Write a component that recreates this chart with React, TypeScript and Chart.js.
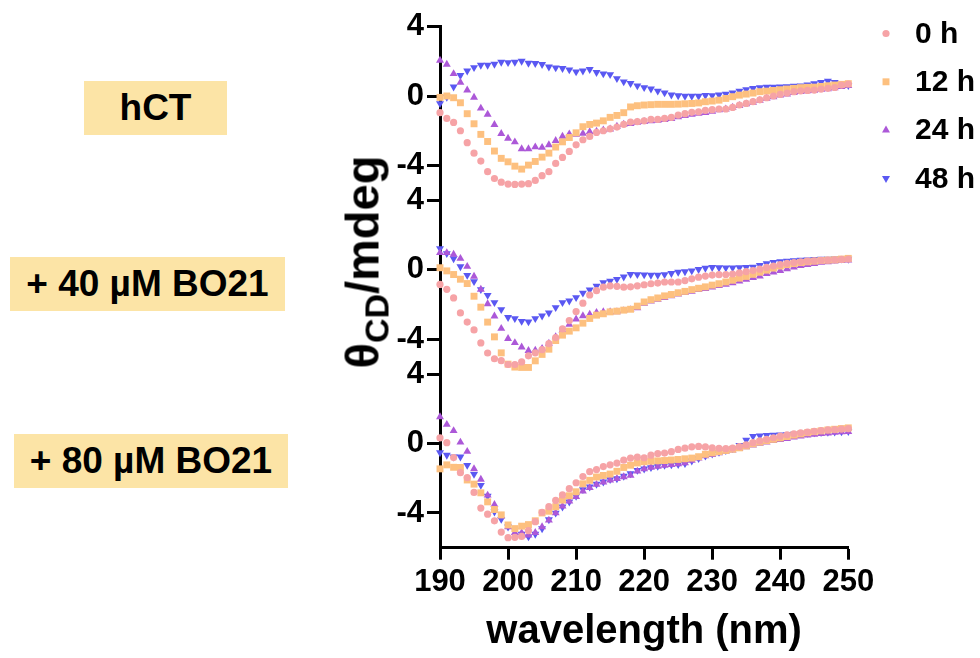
import React, { useEffect, useRef } from 'react';
import { Chart, registerables } from 'chart.js';

Chart.register(...registerables);

// ---- data ----
const wavelengths = [
  190, 191, 192, 193, 194, 195, 196, 197, 198, 199,
  200, 201, 202, 203, 204, 205, 206, 207, 208, 209,
  210, 211, 212, 213, 214, 215, 216, 217, 218, 219,
  220, 221, 222, 223, 224, 225, 226, 227, 228, 229,
  230, 231, 232, 233, 234, 235, 236, 237, 238, 239,
  240, 241, 242, 243, 244, 245, 246, 247, 248, 249,
  250,
];

const seriesLabels = ['0 h', '12 h', '24 h', '48 h'];
const panelLabels = ['hCT', '+ 40 µM BO21', '+ 80 µM BO21'];
const xTicks = [190, 200, 210, 220, 230, 240, 250];
const yTickValues = [-4, 0, 4];

// hCT
const hct0h = [
  -0.95, -1.28, -1.51, -1.99, -2.68, -3.28, -3.74, -4.35, -4.74, -4.95,
  -5.06, -5.08, -5.06, -5.04, -4.85, -4.58, -4.35, -3.87, -3.53, -3.18,
  -2.80, -2.51, -2.32, -2.09, -1.99, -1.88, -1.78, -1.62, -1.49, -1.47,
  -1.42, -1.34, -1.34, -1.28, -1.22, -1.09, -1.01, -0.93, -0.90, -0.82,
  -0.78, -0.74, -0.74, -0.65, -0.51, -0.42, -0.32, -0.21, -0.09, 0.01,
  0.10, 0.18, 0.26, 0.31, 0.33, 0.35, 0.41, 0.45, 0.50, 0.64,
  0.70,
];
const hct12h = [
  -0.07, 0.01, -0.09, -0.38, -1.01, -1.59, -2.20, -2.61, -3.16, -3.58,
  -3.78, -4.03, -4.20, -3.97, -3.76, -3.51, -3.28, -2.93, -2.63, -2.38,
  -2.11, -1.76, -1.63, -1.55, -1.42, -1.22, -1.11, -0.95, -0.62, -0.55,
  -0.51, -0.49, -0.47, -0.47, -0.47, -0.46, -0.44, -0.42, -0.39, -0.32,
  -0.28, -0.23, -0.13, -0.03, 0.06, 0.12, 0.18, 0.26, 0.29, 0.33,
  0.37, 0.41, 0.45, 0.49, 0.51, 0.52, 0.56, 0.60, 0.64, 0.68,
  0.72,
];
const hct24h = [
  2.06, 1.83, 1.29, 0.79, 0.35, -0.07, -0.70, -1.05, -1.64, -2.16,
  -2.43, -2.64, -3.04, -3.04, -2.93, -2.96, -2.81, -2.56, -2.32, -2.18,
  -2.20, -2.15, -2.05, -2.03, -1.95, -1.90, -1.74, -1.63, -1.59, -1.51,
  -1.47, -1.42, -1.40, -1.36, -1.30, -1.20, -1.12, -1.05, -0.99, -0.95,
  -0.88, -0.80, -0.75, -0.65, -0.55, -0.45, -0.36, -0.25, -0.13, -0.05,
  0.05, 0.12, 0.20, 0.26, 0.30, 0.33, 0.38, 0.42, 0.48, 0.55,
  0.60,
];
const hct48h = [
  -0.42, -0.05, 0.54, 1.20, 1.46, 1.65, 1.79, 1.79, 1.85, 1.96,
  1.94, 1.96, 2.02, 1.90, 1.89, 1.83, 1.69, 1.64, 1.60, 1.52,
  1.41, 1.46, 1.54, 1.37, 1.29, 1.25, 1.02, 0.83, 0.74, 0.60,
  0.50, 0.42, 0.30, 0.20, 0.08, 0.03, 0.00, 0.00, 0.00, 0.05,
  0.04, 0.08, 0.12, 0.20, 0.30, 0.38, 0.45, 0.50, 0.52, 0.53,
  0.54, 0.56, 0.58, 0.60, 0.65, 0.72, 0.80, 0.87, 0.80, 0.70,
  0.62,
];

// + 40 µM BO21
const bo40_0h = [
  -0.84, -1.12, -1.62, -2.48, -3.01, -3.46, -4.21, -4.79, -5.12, -5.23,
  -5.45, -5.45, -5.30, -4.95, -4.78, -4.60, -4.25, -3.90, -3.40, -2.92,
  -2.40, -1.92, -1.45, -1.20, -1.00, -0.92, -0.95, -1.00, -0.98, -0.92,
  -0.86, -0.80, -0.76, -0.70, -0.70, -0.70, -0.62, -0.52, -0.42, -0.36,
  -0.30, -0.28, -0.27, -0.24, -0.18, -0.10, -0.04, 0.04, 0.14, 0.22,
  0.30, 0.37, 0.42, 0.46, 0.50, 0.52, 0.54, 0.56, 0.58, 0.60,
  0.62,
];
const bo40_12h = [
  0.12, -0.06, -0.27, -0.54, -0.79, -1.52, -2.15, -3.01, -3.86, -4.78,
  -5.43, -5.60, -5.62, -5.62, -5.24, -4.87, -4.57, -4.07, -3.76, -3.53,
  -3.34, -3.07, -2.80, -2.61, -2.53, -2.42, -2.38, -2.32, -2.27, -2.09,
  -1.85, -1.72, -1.62, -1.50, -1.42, -1.32, -1.24, -1.14, -1.06, -0.98,
  -0.88, -0.80, -0.70, -0.60, -0.48, -0.38, -0.26, -0.14, -0.02, 0.10,
  0.22, 0.30, 0.36, 0.42, 0.46, 0.50, 0.54, 0.56, 0.58, 0.62,
  0.66,
];
const bo40_24h = [
  0.98, 0.98, 0.89, 0.65, 0.19, -0.38, -1.13, -1.96, -2.67, -3.38,
  -3.96, -4.20, -4.45, -4.65, -4.63, -4.53, -4.24, -3.86, -3.49, -3.15,
  -2.84, -2.65, -2.57, -2.46, -2.42, -2.42, -2.42, -2.36, -2.30, -2.19,
  -1.94, -1.80, -1.70, -1.60, -1.50, -1.40, -1.32, -1.24, -1.15, -1.08,
  -1.00, -0.92, -0.84, -0.76, -0.66, -0.56, -0.46, -0.36, -0.22, -0.14,
  -0.05, 0.05, 0.15, 0.24, 0.30, 0.36, 0.42, 0.46, 0.50, 0.53,
  0.55,
];
const bo40_48h = [
  1.23, 0.94, 0.65, 0.19, -0.31, -0.67, -1.13, -1.46, -1.88, -2.28,
  -2.74, -2.80, -2.96, -2.99, -2.80, -2.65, -2.48, -2.17, -1.88, -1.79,
  -1.59, -1.33, -1.15, -0.94, -0.73, -0.65, -0.54, -0.40, -0.25, -0.27,
  -0.28, -0.30, -0.30, -0.27, -0.20, -0.13, -0.10, -0.05, 0.03, 0.10,
  0.14, 0.13, 0.12, 0.12, 0.13, 0.14, 0.16, 0.26, 0.36, 0.44,
  0.48, 0.50, 0.53, 0.56, 0.58, 0.60, 0.62, 0.62, 0.63, 0.63,
  0.62,
];

// + 80 µM BO21
const bo80_0h = [
  0.32, 0.05, -0.81, -1.68, -1.96, -2.82, -3.72, -4.07, -4.45, -5.10,
  -5.42, -5.40, -5.35, -5.02, -4.50, -3.96, -3.64, -3.28, -2.96, -2.60,
  -2.26, -1.90, -1.62, -1.50, -1.33, -1.23, -1.13, -0.96, -0.84, -0.79,
  -0.82, -0.67, -0.58, -0.55, -0.47, -0.34, -0.27, -0.19, -0.17, -0.20,
  -0.25, -0.28, -0.30, -0.27, -0.18, -0.08, 0.05, 0.15, 0.24, 0.33,
  0.42, 0.50, 0.56, 0.62, 0.66, 0.70, 0.74, 0.78, 0.80, 0.83,
  0.86,
];
const bo80_12h = [
  -1.46, -1.23, -1.37, -1.38, -2.10, -2.34, -2.84, -3.36, -3.80, -4.11,
  -4.69, -4.90, -4.76, -4.67, -4.45, -4.00, -3.90, -3.64, -3.26, -3.01,
  -2.78, -2.32, -2.12, -1.93, -1.84, -1.76, -1.60, -1.38, -1.25, -1.12,
  -1.05, -1.02, -1.00, -0.98, -0.95, -0.92, -0.88, -0.84, -0.76, -0.62,
  -0.54, -0.47, -0.40, -0.33, -0.25, -0.14, -0.02, 0.08, 0.16, 0.24,
  0.32, 0.40, 0.48, 0.55, 0.62, 0.68, 0.73, 0.78, 0.82, 0.86,
  0.90,
];
const bo80_24h = [
  1.53, 1.09, 0.73, 0.07, -0.46, -1.46, -2.07, -2.98, -3.52, -4.19,
  -4.80, -5.13, -5.15, -5.28, -5.13, -4.80, -4.42, -4.00, -3.61, -3.32,
  -3.07, -2.75, -2.55, -2.36, -2.23, -2.11, -2.02, -1.92, -1.84, -1.60,
  -1.47, -1.38, -1.32, -1.26, -1.22, -1.18, -1.12, -0.98, -0.85, -0.72,
  -0.64, -0.54, -0.46, -0.38, -0.30, -0.20, -0.10, 0.00, 0.08, 0.16,
  0.22, 0.28, 0.36, 0.42, 0.48, 0.52, 0.56, 0.60, 0.63, 0.66,
  0.68,
];
const bo80_48h = [
  -0.52, -0.67, -0.77, -0.77, -1.25, -1.77, -2.40, -3.03, -3.94, -4.36,
  -4.80, -4.99, -5.22, -5.37, -5.22, -4.90, -4.38, -4.00, -3.65, -3.36,
  -3.03, -2.65, -2.50, -2.34, -2.21, -2.07, -2.02, -1.88, -1.73, -1.54,
  -1.46, -1.38, -1.30, -1.24, -1.22, -1.20, -1.15, -1.00, -0.86, -0.72,
  -0.60, -0.50, -0.40, -0.28, -0.10, 0.20, 0.42, 0.45, 0.47, 0.48,
  0.50, 0.52, 0.55, 0.58, 0.60, 0.62, 0.64, 0.66, 0.67, 0.68,
  0.70,
];

const panels = [
  [hct0h, hct12h, hct24h, hct48h],
  [bo40_0h, bo40_12h, bo40_24h, bo40_48h],
  [bo80_0h, bo80_12h, bo80_24h, bo80_48h],
];
// vertical offset of each stacked panel (top, middle, bottom)
const panelOffsets = [20, 10, 0];

// ---- styles ----
const COLORS = ['#F6A3A6', '#FDC07F', '#AC58D8', '#5A58F2'];
const POINT_STYLES = ['circle', 'rect', 'triangle', 'triangle'];
const POINT_ROT = [0, 0, 0, 180];
const POINT_RADIUS = [3.6, 4.9, 4.6, 4.6];
const FONT = '"Liberation Sans", Arial, Helvetica, sans-serif';

const CHART_LEFT = 440;
const CHART_RIGHT = 848.3;
const CHART_TOP = 26.7;
const CHART_BOTTOM = 547.7;
const W = 980;
const H = 658;

function drawMarker(ctx: CanvasRenderingContext2D, k: number, x: number, y: number) {
  const r = POINT_RADIUS[k];
  ctx.fillStyle = COLORS[k];
  ctx.beginPath();
  if (k === 0) {
    ctx.arc(x, y, r, 0, Math.PI * 2);
  } else if (k === 1) {
    const s = r * Math.SQRT1_2;
    ctx.rect(x - s, y - s, 2 * s, 2 * s);
  } else {
    let rad = (POINT_ROT[k] * Math.PI) / 180;
    ctx.moveTo(x + Math.sin(rad) * r, y - Math.cos(rad) * r);
    rad += (2 * Math.PI) / 3;
    ctx.lineTo(x + Math.sin(rad) * r, y - Math.cos(rad) * r);
    rad += (2 * Math.PI) / 3;
    ctx.lineTo(x + Math.sin(rad) * r, y - Math.cos(rad) * r);
    ctx.closePath();
  }
  ctx.fill();
}

const legendPlugin = {
  id: 'sideLegend',
  afterDraw(chart: any) {
    const ctx: CanvasRenderingContext2D = chart.ctx;
    ctx.save();
    seriesLabels.forEach((lab, k) => {
      const y = 33.5 + k * 48.3;
      drawMarker(ctx, k, 886, y);
      ctx.font = `bold 30px ${FONT}`;
      ctx.fillStyle = '#000';
      ctx.textBaseline = 'middle';
      ctx.textAlign = 'left';
      ctx.fillText(lab, 915, y + 1);
    });
    ctx.restore();
  },
};

export default function App() {
  const canvasRef = useRef<HTMLCanvasElement | null>(null);

  useEffect(() => {
    if (!canvasRef.current) return;
    const datasets: any[] = [];
    panels.forEach((series, p) => {
      series.forEach((vals, k) => {
        datasets.push({
          label: `${panelLabels[p]} ${seriesLabels[k]}`,
          data: vals.map((v, i) => ({ x: wavelengths[i], y: v + panelOffsets[p] })),
          pointStyle: POINT_STYLES[k],
          rotation: POINT_ROT[k],
          pointRadius: POINT_RADIUS[k],
          backgroundColor: COLORS[k],
          borderColor: COLORS[k],
          pointBorderWidth: 0,
          borderWidth: 0,
          showLine: false,
          clip: false,
          order: k,
        });
      });
    });

    const chart = new Chart(canvasRef.current, {
      type: 'scatter',
      data: { datasets },
      plugins: [legendPlugin],
      options: {
        animation: false,
        responsive: false,
        devicePixelRatio: 1,
        layout: {
          padding: { left: 0, top: CHART_TOP, right: W - CHART_RIGHT, bottom: 0 },
        },
        plugins: {
          legend: { display: false },
          tooltip: { enabled: false },
          title: { display: false },
        },
        scales: {
          x: {
            type: 'linear',
            min: 190,
            max: 250,
            afterBuildTicks: (scale: any) => {
              scale.ticks = xTicks.map((v) => ({ value: v }));
            },
            afterFit: (scale: any) => {
              scale.height = H - CHART_BOTTOM;
            },
            ticks: {
              color: '#000',
              padding: 4,
              maxRotation: 0,
              autoSkip: false,
              font: { family: FONT, size: 31, weight: 'bold' },
            },
            grid: {
              display: true,
              drawOnChartArea: false,
              drawTicks: true,
              tickLength: 12,
              tickWidth: 3,
              tickColor: '#000',
            },
            border: { display: true, color: '#000', width: 3 },
            title: {
              display: true,
              text: 'wavelength (nm)',
              color: '#000',
              font: { family: FONT, size: 40, weight: 'bold' },
              padding: { top: 0, bottom: 2 },
            },
          },
          y: {
            type: 'linear',
            min: -6,
            max: 24,
            afterBuildTicks: (scale: any) => {
              const t: any[] = [];
              panelOffsets
                .slice()
                .reverse()
                .forEach((off) => yTickValues.forEach((v) => t.push({ value: v + off })));
              scale.ticks = t;
            },
            afterFit: (scale: any) => {
              scale.width = CHART_LEFT;
            },
            ticks: {
              color: '#000',
              padding: 3,
              autoSkip: false,
              font: { family: FONT, size: 31, weight: 'bold' },
              callback: (value: any) => {
                const v = Number(value);
                const off = v >= 15 ? 20 : v >= 5 ? 10 : 0;
                return String(v - off);
              },
            },
            grid: {
              display: true,
              drawOnChartArea: false,
              drawTicks: true,
              tickLength: 13,
              tickWidth: 3,
              tickColor: '#000',
            },
            border: { display: true, color: '#000', width: 3 },
          },
        },
      } as any,
    });
    return () => chart.destroy();
  }, []);

  const boxStyle: React.CSSProperties = {
    position: 'absolute',
    background: '#FCE4A6',
    display: 'flex',
    alignItems: 'center',
    justifyContent: 'center',
    font: `bold 37px ${FONT}`,
    color: '#000',
    whiteSpace: 'nowrap',
  };
  const boxes = [
    { left: 84, top: 81, width: 143, height: 54 },
    { left: 10, top: 257, width: 275, height: 54 },
    { left: 14, top: 434, width: 274, height: 54 },
  ];

  return (
    <div
      style={{
        position: 'fixed',
        left: 0,
        top: 0,
        width: W,
        height: H,
        background: '#fff',
        overflow: 'hidden',
      }}
    >
      <canvas
        ref={canvasRef}
        width={W}
        height={H}
        style={{ position: 'absolute', left: 0, top: 0, width: W, height: H }}
      />
      {panelLabels.map((lab, i) => (
        <div key={lab} style={{ ...boxStyle, ...boxes[i] }}>
          {lab}
        </div>
      ))}
      <div
        style={{
          position: 'absolute',
          left: 362,
          top: 262,
          transform: 'translate(-50%, -50%) rotate(-90deg)',
          font: `bold 47px ${FONT}`,
          color: '#000',
          whiteSpace: 'nowrap',
          lineHeight: 1,
        }}
      >
        θ
        <span style={{ fontSize: 34, position: 'relative', top: 10 }}>CD</span>
        /mdeg
      </div>
    </div>
  );
}
